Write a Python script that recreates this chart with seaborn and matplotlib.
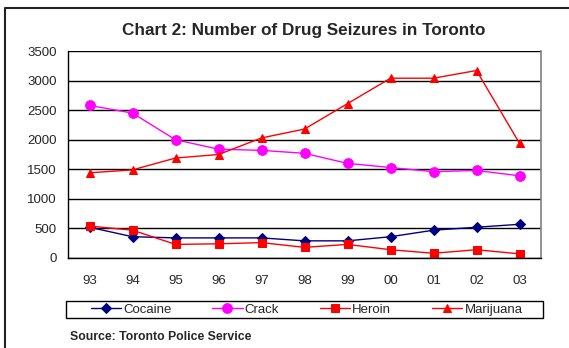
import matplotlib
matplotlib.use('Agg')
import matplotlib.pyplot as plt
from matplotlib.lines import Line2D
from matplotlib.patches import Rectangle
import numpy as np
import pandas as pd
import seaborn as sns

years = ['93', '94', '95', '96', '97', '98', '99', '00', '01', '02', '03']
cocaine = [520, 360, 340, 340, 340, 290, 290, 360, 470, 520, 570]
crack = [2580, 2450, 2000, 1840, 1820, 1770, 1600, 1530, 1460, 1480, 1390]
heroin = [540, 470, 230, 240, 260, 180, 230, 140, 80, 140, 70]
marijuana = [1440, 1490, 1690, 1750, 2030, 2180, 2610, 3040, 3040, 3170, 1940]

series = {'Cocaine': cocaine, 'Crack': crack, 'Heroin': heroin, 'Marijuana': marijuana}
styles = {
    'Cocaine': dict(color='#000080', marker='D', markersize=5),
    'Crack': dict(color='#FF00FF', marker='o', markersize=7),
    'Heroin': dict(color='#FF0000', marker='s', markersize=5.5),
    'Marijuana': dict(color='#FF0000', marker='^', markersize=6),
}

df = pd.DataFrame({
    'pos': np.tile(np.arange(len(years)), len(series)),
    'value': np.concatenate([series[k] for k in series]),
    'drug': np.repeat(list(series.keys()), len(years)),
})

sns.set_style('white')
plt.rcParams['font.family'] = ['Liberation Sans', 'DejaVu Sans']

fig = plt.figure(figsize=(5.69, 3.48), dpi=100)
ax = fig.add_axes([68 / 569, 1 - 258 / 348, (541 - 68) / 569, (258 - 51) / 348])

for name in series:
    st = styles[name]
    sns.lineplot(data=df[df['drug'] == name], x='pos', y='value', ax=ax,
                 color=st['color'], marker=st['marker'], markersize=st['markersize'],
                 markeredgecolor=st['color'], linewidth=1, label=name)

ax.set_xlim(-0.5, len(years) - 0.5)
ax.set_ylim(0, 3500)
ax.set_yticks(np.arange(0, 3501, 500))
ax.set_xticks(np.arange(len(years)))
ax.set_xticklabels(years)
ax.set_xticks(np.arange(-0.5, len(years), 1), minor=True)
ax.tick_params(axis='x', which='major', length=0, pad=12, labelsize=9.5)
ax.tick_params(axis='x', which='minor', length=4, width=1, color='black', direction='out')
ax.tick_params(axis='y', length=4, width=1, color='black', direction='out', pad=4, labelsize=9.5)
ax.set_xlabel('')
ax.set_ylabel('')
ax.yaxis.grid(True, color='black', linewidth=1)
ax.set_axisbelow(True)
for s in ['left', 'bottom']:
    ax.spines[s].set_color('black')
    ax.spines[s].set_linewidth(1)
ax.spines['top'].set_visible(False)
ax.spines['right'].set_color('#808080')
ax.spines['right'].set_linewidth(1.2)

# legend box below the plot
handles, labels = ax.get_legend_handles_labels()
ax.get_legend().remove()
fig.add_artist(Rectangle((66 / 569, 1 - 318 / 348), (543 - 66) / 569, 17 / 348,
                         transform=fig.transFigure, fill=False,
                         edgecolor='black', linewidth=1))
fig.legend(handles, labels, ncol=4, loc='center',
           bbox_to_anchor=(306.5 / 569, 1 - 309.5 / 348),
           frameon=False, fontsize=9.5, handlelength=2.3, handletextpad=0.15,
           borderpad=0, borderaxespad=0, columnspacing=3.1)

fig.text(304 / 569, 1 - 31 / 348, 'Chart 2: Number of Drug Seizures in Toronto',
         ha='center', va='center', fontsize=12.3, fontweight='bold')
fig.text(70 / 569, 1 - 337 / 348, 'Source: Toronto Police Service',
         ha='left', va='center', fontsize=8.8, fontweight='bold')

# outer frame (top and left edges visible)
fig.add_artist(Line2D([5 / 569, 5 / 569, 1], [0, 1 - 8 / 348, 1 - 8 / 348],
                      transform=fig.transFigure, color='#222222', linewidth=1.5))

fig.savefig('out.png', dpi=100)
plt.close(fig)
